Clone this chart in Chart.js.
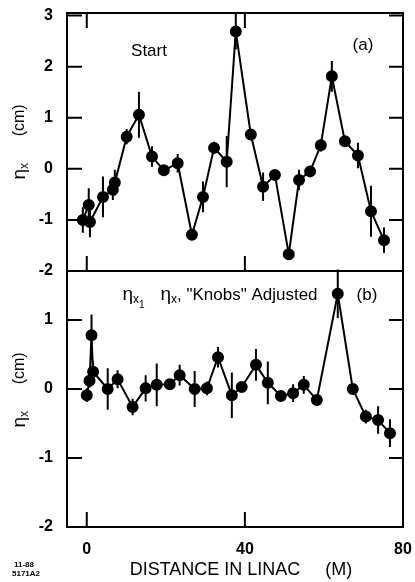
<!DOCTYPE html>
<html>
<head>
<meta charset="utf-8">
<script src="https://cdn.jsdelivr.net/npm/chart.js@4.4.0/dist/chart.umd.min.js"></script>
<style>
  html, body { margin: 0; padding: 0; background: #fff; }
  #wrap { position: relative; width: 415px; height: 582px; }
  #wrap canvas { position: absolute; left: 0; top: 0; }
</style>
</head>
<body>
<div id="wrap">
  <canvas id="top" width="415" height="582"></canvas>
  <canvas id="bottom" width="415" height="582"></canvas>
</div>
<script>
// distance in linac (m), shared tick labels
const xTicks = [0, 40, 80];

// (a) Start
const topX = [-1.0, 0.5, 0.8, 4.1, 6.6, 7.1, 10.1, 13.2, 16.5, 19.5, 23.0, 26.6, 29.4, 32.2, 35.4, 37.7, 41.5, 44.6, 47.6, 51.1, 53.7, 56.5, 59.2, 62.0, 65.3, 68.6, 71.9, 75.2];
const topY = [-1.0, -0.71, -1.04, -0.55, -0.41, -0.27, 0.63, 1.06, 0.24, -0.03, 0.11, -1.29, -0.55, 0.41, 0.14, 2.69, 0.67, -0.35, -0.12, -1.67, -0.22, -0.05, 0.46, 1.81, 0.54, 0.26, -0.83, -1.4];
const topErr = [0.25, 0.33, 0.3, 0.4, 0.2, 0.25, 0.15, 0.45, 0.2, 0.08, 0.18, 0.1, 0.3, 0.12, 0.5, 0.35, 0.1, 0.28, 0.1, 0.05, 0.2, 0.1, 0.12, 0.3, 0.1, 0.25, 0.5, 0.25];
const topYTicks = [-2, -1, 0, 1, 2, 3];

// (b) knobs adjusted
const botX = [0.0, 0.7, 1.2, 1.6, 5.3, 7.8, 11.6, 14.9, 17.7, 21.0, 23.5, 27.3, 30.4, 33.2, 36.7, 39.2, 42.8, 45.8, 49.1, 52.2, 54.9, 58.2, 63.5, 67.3, 70.6, 73.7, 76.7];
const botY = [-0.09, 0.12, 0.78, 0.25, 0.0, 0.14, -0.26, 0.01, 0.06, 0.07, 0.2, 0.0, 0.01, 0.46, -0.09, 0.03, 0.35, 0.09, -0.1, -0.06, 0.06, -0.16, 1.38, 0.0, -0.4, -0.45, -0.64];
const botErr = [0.1, 0.1, 0.3, 0.15, 0.3, 0.13, 0.12, 0.19, 0.31, 0.05, 0.15, 0.26, 0.1, 0.15, 0.33, 0.05, 0.23, 0.31, 0.08, 0.13, 0.13, 0.08, 0.35, 0.06, 0.1, 0.2, 0.2];
const botYTicks = [-2, -1, 0, 1];

const FONT = '"Liberation Sans", Arial, sans-serif';

// draw a row of text pieces (for subscripts), centred on cx
function drawRuns(ctx, cx, cy, runs) {
  let w = 0;
  runs.forEach(r => { ctx.font = `${r.bold ? 'bold ' : ''}${r.size}px ${FONT}`; r.w = ctx.measureText(r.t).width; w += r.w; });
  let x = cx - w / 2;
  ctx.textBaseline = 'middle';
  ctx.textAlign = 'left';
  runs.forEach(r => {
    ctx.font = `${r.bold ? 'bold ' : ''}${r.size}px ${FONT}`;
    ctx.fillText(r.t, x, cy + (r.dy || 0));
    x += r.w;
  });
}

function yTitle(ctx, cx, cy) {
  ctx.save();
  ctx.translate(cx, cy);
  ctx.rotate(-Math.PI / 2);
  drawRuns(ctx, 0, 0, [
    { t: 'η', size: 19 }, { t: 'x', size: 12, dy: 5 },
    { t: '      (cm)', size: 16 }
  ]);
  ctx.restore();
}

function errorBars(errs) {
  return {
    id: 'errorBars',
    beforeDatasetsDraw(chart) {
      const { ctx, scales: { x, y } } = chart;
      ctx.save();
      ctx.strokeStyle = '#000';
      ctx.lineWidth = 2;
      ctx.beginPath();
      chart.data.datasets[0].data.forEach((p, i) => {
        const px = x.getPixelForValue(p.x);
        ctx.moveTo(px, y.getPixelForValue(p.y - errs[i]));
        ctx.lineTo(px, y.getPixelForValue(p.y + errs[i]));
      });
      ctx.stroke();
      ctx.restore();
    }
  };
}

function frame(yTicks, topTicks, drawText) {
  return {
    id: 'frame',
    afterDraw(chart) {
      const { ctx, chartArea: a, scales: { x, y } } = chart;
      ctx.save();
      ctx.strokeStyle = '#000';
      ctx.lineWidth = 2;
      ctx.strokeRect(a.left, a.top, a.width, a.height);
      ctx.beginPath();
      yTicks.forEach(v => {
        const py = y.getPixelForValue(v);
        ctx.moveTo(a.left, py); ctx.lineTo(a.left + 15, py);
        ctx.moveTo(a.right, py); ctx.lineTo(a.right - 14, py);
      });
      xTicks.forEach(v => {
        const px = x.getPixelForValue(v);
        ctx.moveTo(px, a.bottom); ctx.lineTo(px, a.bottom - 15);
        if (topTicks) { ctx.moveTo(px, a.top); ctx.lineTo(px, a.top + 15); }
      });
      ctx.stroke();
      ctx.fillStyle = '#000';
      drawText(ctx, a);
      ctx.restore();
    }
  };
}

function makeChart(id, xs, ys, errs, yTicks, yMin, yMax, padding, showX, topTicks, drawText) {
  return new Chart(document.getElementById(id), {
    type: 'line',
    data: {
      datasets: [{
        data: xs.map((v, i) => ({ x: v, y: ys[i] })),
        borderColor: '#000',
        borderWidth: 2,
        pointRadius: 5,
        pointBackgroundColor: '#000',
        pointBorderColor: '#000',
        tension: 0
      }]
    },
    options: {
      responsive: false,
      animation: false,
      layout: { padding },
      plugins: { legend: { display: false }, tooltip: { enabled: false } },
      scales: {
        x: {
          type: 'linear', min: -5, max: 80,
          display: showX,
          afterBuildTicks: s => { s.ticks = xTicks.map(v => ({ value: v })); },
          afterFit: s => {
            if (showX) s.height = 55;
            s.paddingLeft = 0; s.paddingRight = 0;
          },
          grid: { display: false, drawTicks: false },
          border: { display: false },
          ticks: { padding: 13, color: '#000', maxRotation: 0, font: { family: FONT, size: 16, weight: 'bold' } }
        },
        y: {
          min: yMin, max: yMax,
          afterBuildTicks: s => { s.ticks = yTicks.map(v => ({ value: v })); },
          afterFit: s => { s.width = 67; s.paddingTop = 0; s.paddingBottom = 0; },
          grid: { display: false, drawTicks: false },
          border: { display: false },
          ticks: { padding: 14, color: '#000', font: { family: FONT, size: 16, weight: 'bold' } }
        }
      }
    },
    plugins: [errorBars(errs), frame(yTicks, topTicks, drawText)]
  });
}

makeChart('top', topX, topY, topErr, topYTicks, -2, 3.05,
  { top: 13, right: 12, bottom: 311, left: 0 }, false, true,
  (ctx, a) => {
    yTitle(ctx, 20, (a.top + a.bottom) / 2);
    drawRuns(ctx, 149, 51, [{ t: 'Start', size: 17 }]);
    drawRuns(ctx, 363, 45, [{ t: '(a)', size: 17 }]);
  });

makeChart('bottom', botX, botY, botErr, botYTicks, -2, 1.71,
  { top: 271, right: 12, bottom: 0, left: 0 }, true, false,
  (ctx, a) => {
    yTitle(ctx, 20, 390);
    drawRuns(ctx, 220, 295, [
      { t: 'η', size: 19 }, { t: 'x', size: 12, dy: 5 }, { t: '1', size: 10, dy: 10 },
      { t: '   η', size: 19 }, { t: 'x', size: 12, dy: 5 },
      { t: ', "Knobs" Adjusted', size: 17 }
    ]);
    drawRuns(ctx, 367, 295, [{ t: '(b)', size: 17 }]);
    drawRuns(ctx, 241, 570, [{ t: 'DISTANCE IN LINAC     (M)', size: 18 }]);
    drawRuns(ctx, 24, 565, [{ t: '11-88', size: 8, bold: true }]);
    drawRuns(ctx, 26, 574, [{ t: '5171A2', size: 8, bold: true }]);
  });
</script>
</body>
</html>
